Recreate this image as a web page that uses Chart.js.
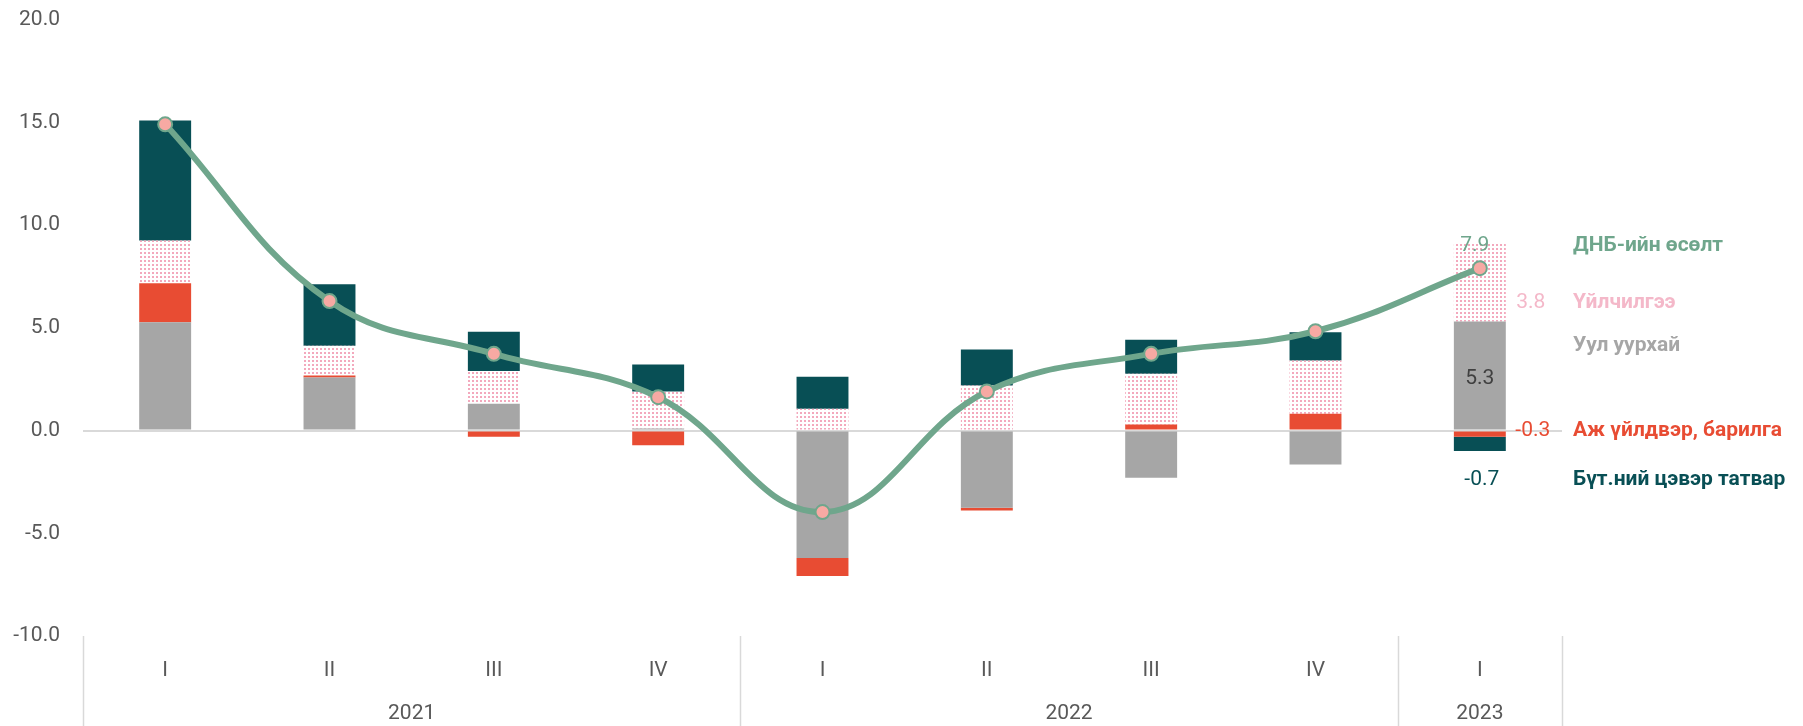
<!DOCTYPE html>
<html>
<head>
<meta charset="utf-8">
<script src="https://cdn.jsdelivr.net/npm/chart.js@4.4.0/dist/chart.umd.min.js"></script>
<style>
  html, body { margin: 0; padding: 0; background: #fff; }
  #wrap { width: 1803px; height: 726px; position: relative; }
</style>
</head>
<body>
<div id="wrap"><canvas id="chart"></canvas></div>
<script>
// Өгөгдөл
const quarters = ['I', 'II', 'III', 'IV', 'I', 'II', 'III', 'IV', 'I'];
const years = ['2021', '2022', '2023'];
const yearSpans = [4, 4, 1];
const yTicks = [-10, -5, 0, 5, 10, 15, 20];

const mining   = [5.27, 2.58, 1.30, 0.10, -6.20, -3.76, -2.30, -1.65, 5.3];
const industry = [1.90, 0.10, -0.30, -0.72, -0.88, -0.13, 0.29, 0.81, -0.3];
const services = [2.08, 1.44, 1.59, 1.80, 1.06, 2.19, 2.47, 2.60, 3.8];
const taxes    = [5.84, 3.00, 1.91, 1.31, 1.55, 1.75, 1.65, 1.37, -0.7];
const gdp      = [14.9, 6.3, 3.73, 1.62, -3.97, 1.9, 3.73, 4.83, 7.9];

const seriesNames = {
    gdp: 'ДНБ-ийн өсөлт',
    services: 'Үйлчилгээ',
    mining: 'Уул уурхай',
    industry: 'Аж үйлдвэр, барилга',
    taxes: 'Бүт.ний цэвэр татвар'
};

const colors = {
    gdp: '#6fa68c',
    point: '#f7a9a3',
    services: '#f3a9bd',
    servicesText: '#f4b8c9',
    mining: '#a6a6a6',
    industry: '#e84c33',
    taxes: '#084f55',
    axisText: '#595959',
    grid: '#d9d9d9'
};

Chart.defaults.font.family = "Roboto, 'Noto Sans', sans-serif";
Chart.defaults.color = colors.axisText;

// Цэгэн хээтэй дүүргэлт (Үйлчилгээ)
function makeDotPattern(color) {
    const c = document.createElement('canvas');
    c.width = 4;
    c.height = 4;
    const g = c.getContext('2d');
    g.fillStyle = color;
    g.fillRect(0, 0, 2, 2);
    return g.createPattern(c, 'repeat');
}

// Баруун талын тайлбар ба утгын шошго, доод талын жилийн ангилал
const annotationPlugin = {
    id: 'annotations',
    afterDraw(chart) {
        const ctx = chart.ctx;
        const x = chart.scales.x;
        const y = chart.scales.y;
        const area = chart.chartArea;
        const last = quarters.length - 1;
        const half = (x.getPixelForValue(1) - x.getPixelForValue(0)) / 2;

        ctx.save();

        // Жилийн хил зааг
        ctx.strokeStyle = colors.grid;
        ctx.lineWidth = 1.5;
        let start = 0;
        const bounds = [0];
        yearSpans.forEach(span => { start += span; bounds.push(start); });
        bounds.forEach(b => {
            const px = Math.round(x.getPixelForValue(b) - half) + 0.5;
            ctx.beginPath();
            ctx.moveTo(px, area.bottom);
            ctx.lineTo(px, chart.height);
            ctx.stroke();
        });

        // Жилийн шошго
        ctx.fillStyle = colors.axisText;
        ctx.font = '21px Roboto';
        ctx.textAlign = 'center';
        ctx.textBaseline = 'middle';
        years.forEach((yr, i) => {
            const a = x.getPixelForValue(bounds[i]);
            const b = x.getPixelForValue(bounds[i + 1] - 1);
            ctx.fillText(yr, (a + b) / 2, area.bottom + 78);
        });

        // Сүүлийн баганын утгууд
        const cx = x.getPixelForValue(last);
        const values = [
            { text: gdp[last].toFixed(1), color: colors.gdp, dx: -5, v: 9.0 },
            { text: services[last].toFixed(1), color: colors.servicesText, dx: 51, v: 6.2 },
            { text: mining[last].toFixed(1), color: '#404040', dx: 0, v: 2.53 },
            { text: industry[last].toFixed(1), color: colors.industry, dx: 53, v: 0 },
            { text: taxes[last].toFixed(1), color: colors.taxes, dx: 2, v: -2.4 }
        ];
        ctx.font = '21px Roboto';
        values.forEach(l => {
            ctx.fillStyle = l.color;
            ctx.fillText(l.text, cx + l.dx, y.getPixelForValue(l.v));
        });

        // Цувралын нэрс
        const labels = [
            { text: seriesNames.gdp, color: colors.gdp, v: 9.0 },
            { text: seriesNames.services, color: colors.servicesText, v: 6.2 },
            { text: seriesNames.mining, color: colors.mining, v: 4.1 },
            { text: seriesNames.industry, color: colors.industry, v: 0 },
            { text: seriesNames.taxes, color: colors.taxes, v: -2.4 }
        ];
        ctx.font = 'bold 21px Roboto';
        ctx.textAlign = 'left';
        labels.forEach(l => {
            ctx.fillStyle = l.color;
            ctx.fillText(l.text, area.right + 11, y.getPixelForValue(l.v));
        });

        ctx.restore();
    }
};

const barOpts = {
    stack: 'contrib',
    order: 1,
    borderWidth: 0,
    categoryPercentage: 1.0,
    barPercentage: 0.316
};

const ctx = document.getElementById('chart').getContext('2d');
new Chart(ctx, {
    data: {
        labels: quarters,
        datasets: [
            {
                type: 'line',
                label: seriesNames.gdp,
                data: gdp,
                stack: 'gdp',
                order: 0,
                borderColor: colors.gdp,
                borderWidth: 6,
                tension: 0.4,
                pointRadius: 7,
                pointBackgroundColor: colors.point,
                pointBorderColor: colors.gdp,
                pointBorderWidth: 2
            },
            Object.assign({ type: 'bar', label: seriesNames.mining, data: mining, backgroundColor: colors.mining }, barOpts),
            Object.assign({ type: 'bar', label: seriesNames.industry, data: industry, backgroundColor: colors.industry }, barOpts),
            Object.assign({ type: 'bar', label: seriesNames.services, data: services, backgroundColor: makeDotPattern(colors.services) }, barOpts),
            Object.assign({ type: 'bar', label: seriesNames.taxes, data: taxes, backgroundColor: colors.taxes }, barOpts)
        ]
    },
    options: {
        responsive: true,
        maintainAspectRatio: false,
        animation: false,
        layout: {
            padding: { top: 19.5, right: 241, bottom: 0, left: 0 }
        },
        plugins: {
            legend: { display: false },
            tooltip: { enabled: false }
        },
        scales: {
            x: {
                stacked: true,
                grid: { display: false },
                border: { display: false },
                ticks: {
                    font: { size: 21 },
                    color: colors.axisText,
                    padding: 14,
                    maxRotation: 0,
                    autoSkip: false
                },
                afterFit: scale => { scale.height = 90; }
            },
            y: {
                stacked: true,
                min: -10,
                max: 20,
                afterBuildTicks: scale => { scale.ticks = yTicks.map(v => ({ value: v })); },
                grid: {
                    drawTicks: false,
                    lineWidth: 2,
                    color: c => (c.tick && c.tick.value === 0 ? colors.grid : 'rgba(0,0,0,0)')
                },
                border: { display: false },
                ticks: {
                    font: { size: 21 },
                    color: colors.axisText,
                    padding: 23,
                    callback: v => v.toFixed(1)
                },
                afterFit: scale => {
                    scale.width = 83;
                    // шошгын завсар дээд/доод зайд нөлөөлөхгүй
                    scale.paddingTop = 0;
                    scale.paddingBottom = 0;
                }
            }
        }
    },
    plugins: [annotationPlugin]
});
</script>
</body>
</html>
